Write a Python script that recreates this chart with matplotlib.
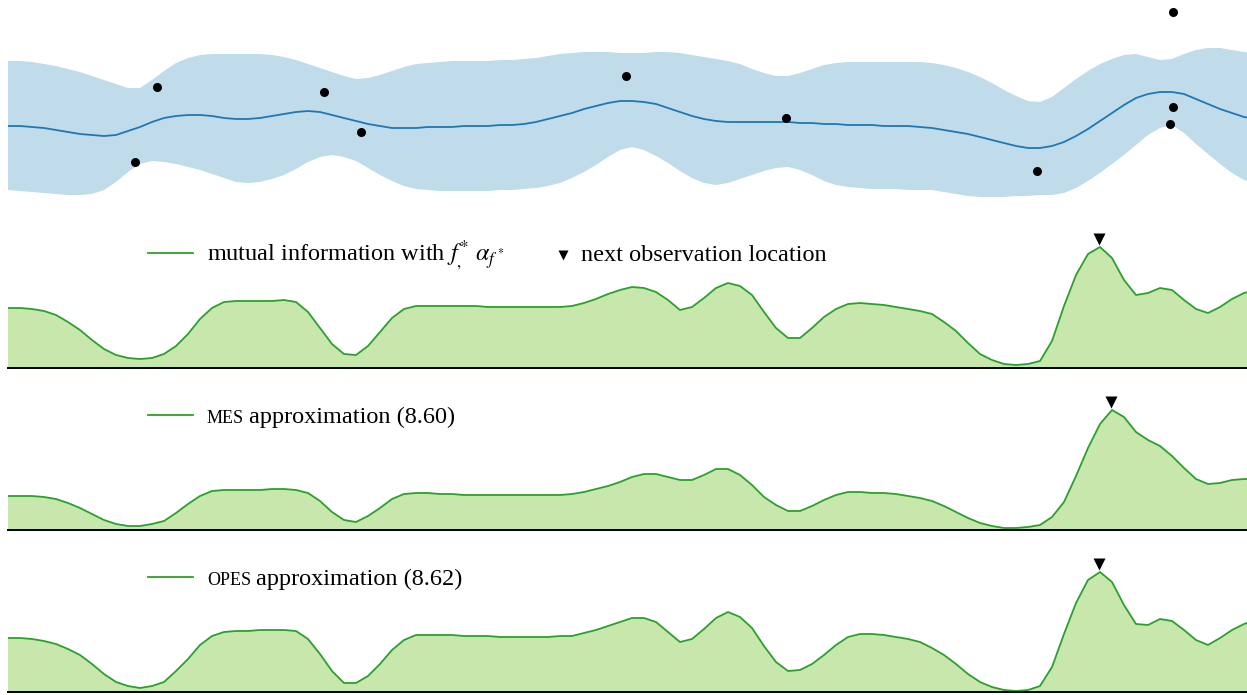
import matplotlib
matplotlib.use("Agg")
import matplotlib.pyplot as plt
from matplotlib.lines import Line2D
from matplotlib.transforms import offset_copy
import numpy as np

plt.rcParams['font.family'] = ['Liberation Serif', 'DejaVu Serif']
plt.rcParams['mathtext.fontset'] = 'stix'

# ---------------- data ----------------
# common sampling locations along the domain (12-unit spacing)
x = np.arange(8, 1257, 12)

# top panel: GP posterior credible band, mean and observations
band_upper = [69, 69, 68, 66, 64, 61, 58, 54, 50, 46,
              42, 42, 50, 59, 67, 72, 75, 76, 76, 76,
              76, 76, 75, 73, 70, 66, 62, 58, 54, 51,
              52, 55, 59, 63, 66, 67, 68, 69, 69, 69,
              69, 70, 70, 71, 72, 74, 76, 77, 78, 78,
              78, 77, 77, 77, 78, 78, 77, 75, 73, 71,
              69, 66, 61, 57, 54, 54, 57, 61, 65, 67,
              68, 68, 68, 68, 68, 68, 68, 67, 65, 62,
              58, 53, 47, 40, 34, 29, 28, 33, 42, 51,
              59, 66, 71, 75, 76, 73, 70, 71, 76, 80,
              82, 82, 80, 78, 77]
band_lower = [-60, -61, -62, -63, -64, -65, -65, -64, -60, -52,
              -42, -34, -31, -32, -34, -37, -40, -44, -48, -52,
              -53, -52, -49, -45, -39, -32, -27, -25, -27, -31,
              -38, -45, -51, -56, -59, -60, -61, -61, -61, -61,
              -61, -60, -60, -59, -58, -56, -53, -48, -42, -35,
              -27, -20, -17, -20, -26, -33, -41, -48, -53, -55,
              -53, -49, -45, -41, -38, -37, -40, -45, -51, -55,
              -57, -58, -59, -59, -59, -60, -60, -60, -62, -64,
              -66, -67, -67, -67, -66, -66, -65, -65, -63, -58,
              -51, -43, -34, -25, -15, -5, 2, 5, -3, -14,
              -24, -34, -43, -50, -54]
post_mean = [4, 4, 3, 2, 0, -2, -4, -5, -6, -5,
             -1, 3, 8, 12, 14, 15, 15, 14, 12, 11,
             11, 12, 14, 16, 18, 19, 18, 15, 12, 9,
             6, 4, 2, 2, 2, 3, 3, 3, 4, 4,
             4, 5, 5, 6, 8, 11, 14, 17, 21, 24,
             27, 29, 29, 28, 26, 22, 18, 14, 11, 9,
             8, 8, 8, 8, 8, 8, 7, 7, 6, 6,
             5, 5, 5, 4, 4, 4, 3, 2, 0, -2,
             -4, -7, -10, -13, -16, -18, -18, -16, -12, -6,
             1, 9, 17, 25, 32, 36, 38, 38, 36, 31,
             26, 21, 17, 13, 11]
obs_x = [135, 157, 324, 361, 626, 786, 1037, 1170, 1173, 1173]
obs_y = [-32, 43, 38, -2, 54, 12, -41, 6, 23, 118]

# acquisition functions
mi_exact = [60, 60, 59, 57, 53, 46, 38, 28, 19, 13,
            10, 9, 10, 14, 22, 34, 49, 60, 66, 67,
            67, 67, 67, 68, 66, 56, 40, 24, 14, 13,
            22, 36, 50, 59, 62, 62, 62, 62, 62, 62,
            61, 61, 61, 61, 61, 61, 61, 62, 65, 69,
            74, 78, 81, 80, 76, 68, 58, 61, 70, 80,
            85, 82, 73, 56, 40, 30, 30, 40, 51, 59,
            64, 65, 64, 63, 61, 59, 57, 54, 46, 37,
            25, 14, 8, 4, 3, 4, 7, 27, 62, 93,
            114, 121, 110, 88, 73, 75, 80, 78, 68, 59,
            55, 61, 69, 75, 78]
mes_approx = [34, 34, 34, 33, 31, 27, 22, 16, 10, 6,
              4, 4, 6, 9, 17, 26, 34, 39, 40, 40,
              40, 40, 41, 41, 40, 37, 29, 18, 10, 8,
              14, 22, 31, 36, 37, 37, 36, 36, 35, 35,
              35, 35, 35, 35, 35, 35, 35, 36, 38, 41,
              44, 48, 53, 56, 56, 53, 50, 50, 55, 61,
              61, 55, 45, 33, 25, 19, 19, 24, 30, 35,
              38, 38, 37, 37, 36, 34, 32, 29, 24, 18,
              12, 7, 4, 2, 2, 3, 5, 13, 28, 54,
              82, 106, 120, 113, 98, 90, 84, 74, 62, 51,
              46, 47, 50, 51, 51]
opes_approx = [54, 54, 53, 51, 48, 43, 37, 28, 18, 10,
               6, 4, 6, 10, 21, 33, 47, 56, 60, 61,
               61, 62, 62, 62, 61, 53, 38, 21, 9, 9,
               16, 28, 42, 52, 57, 57, 57, 57, 56, 56,
               56, 55, 55, 55, 55, 55, 56, 56, 59, 62,
               66, 70, 74, 74, 70, 60, 50, 53, 63, 74,
               80, 75, 64, 46, 30, 21, 22, 28, 37, 47,
               55, 58, 58, 57, 55, 53, 50, 44, 37, 28,
               18, 10, 5, 2, 1, 2, 6, 25, 58, 89,
               112, 120, 110, 87, 68, 67, 73, 71, 62, 52,
               47, 54, 62, 68, 72]
next_x = [1099, 1111, 1099]

legend_main = r"mutual information with $f_{,}^{*}$ $\alpha_{f^*}$"
legend_next = "next observation location"
sc_labels = ["MES", "OPES"]
rest_labels = ["approximation (8.60)", "approximation (8.62)"]

# ---------------- style ----------------
W, H = 1247, 695
BAND = '#c0dcea'
MEAN = '#1f77b4'
GREEN = '#2ca02c'
GFILL = '#c8e7ad'
FS = 17.5

fig = plt.figure(figsize=(W / 100, H / 100), dpi=100)

def add_ax(top_px, bot_px):
    return fig.add_axes([8 / W, 1 - bot_px / H, (W - 8) / W, (bot_px - top_px) / H])

# top panel
ax0 = add_ax(0, 205)
ax0.fill_between(x, band_lower, band_upper, color=BAND, lw=0)
ax0.plot(x, post_mean, color=MEAN, lw=1.3)
ax0.plot(obs_x, obs_y, 'o', color='black', ms=6.5, mec='none')
ax0.set_xlim(8, 1247)
ax0.set_ylim(-75, 130)
ax0.axis('off')

panels = [(225, 368, mi_exact), (387, 530, mes_approx), (549, 692, opes_approx)]
for i, (t, b, vals) in enumerate(panels):
    ax = add_ax(t, b)
    ax.fill_between(x, 0, vals, color=GFILL, lw=0)
    ax.plot(x, vals, color=GREEN, lw=1.3, solid_joinstyle='round')
    tr = offset_copy(ax.transData, fig=fig, x=0, y=6, units='points')
    ax.plot([next_x[i]], [max(vals)], marker='v', color='black', ms=8, mec='none',
            transform=tr, clip_on=False)
    ax.set_xlim(8, 1247)
    ax.set_ylim(0, b - t)
    for s in ['top', 'left', 'right']:
        ax.spines[s].set_visible(False)
    ax.spines['bottom'].set_linewidth(1.4)
    ax.spines['bottom'].set_color('black')
    ax.set_xticks([])
    ax.set_yticks([])
    ax.patch.set_alpha(0)

# legends
def fx(px):
    return px / W

def fy(py):
    return 1 - py / H

leg_line_y = [253, 415, 577]
leg_base_y = [261, 423, 585]
for i in range(3):
    fig.add_artist(Line2D([fx(148), fx(193)], [fy(leg_line_y[i])] * 2, color=GREEN, lw=1.3))

fig.text(fx(207), fy(leg_base_y[0]), legend_main, fontsize=FS, va='baseline', ha='left')
fig.add_artist(Line2D([fx(563)], [fy(leg_line_y[0] + 2)], marker='v', color='black', ms=7,
                      mec='none', ls='none'))
fig.text(fx(581), fy(leg_base_y[0]), legend_next, fontsize=FS, va='baseline', ha='left')

renderer = fig.canvas.get_renderer()
for j in range(2):
    t1 = fig.text(fx(207), fy(leg_base_y[j + 1]), sc_labels[j], fontsize=FS * 0.74,
                  va='baseline', ha='left')
    bb = t1.get_window_extent(renderer=renderer)
    fig.text((bb.x1 + 5) / W, fy(leg_base_y[j + 1]), rest_labels[j], fontsize=FS,
             va='baseline', ha='left')

fig.savefig('out.png', dpi=100)
